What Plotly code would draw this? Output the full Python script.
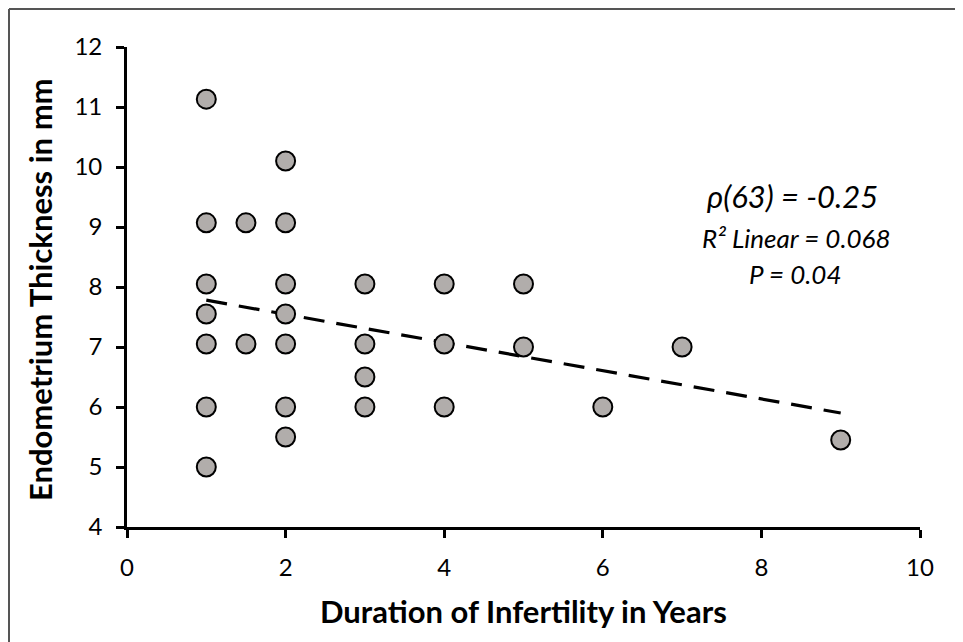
import plotly.graph_objects as go

# Data
duration_years = [1, 1, 1, 1, 1, 1, 1,
                  1.5, 1.5,
                  2, 2, 2, 2, 2, 2, 2,
                  3, 3, 3, 3,
                  4, 4, 4,
                  5, 5,
                  6, 7, 9]
thickness_mm = [11.13, 9.07, 8.05, 7.55, 7.05, 6.0, 5.0,
                9.07, 7.05,
                10.1, 9.07, 8.05, 7.55, 7.05, 6.0, 5.5,
                8.05, 7.05, 6.5, 6.0,
                8.05, 7.05, 6.0,
                8.05, 7.0,
                6.0, 7.0, 5.45]
trend_x = [1, 9]
trend_y = [7.78, 5.9]

x_ticks = [0, 2, 4, 6, 8, 10]
y_ticks = [4, 5, 6, 7, 8, 9, 10, 11, 12]

stats_lines = ["ρ(63) = -0.25", "R² Linear = 0.068", "P = 0.04"]

# page has an 8px body margin; figure sized to fit the 963x642 window
OFF = 8
W, H = 963 - OFF, 642 - OFF
ML, MR, MT, MB = 127 - OFF, 43, 47 - OFF, 115
PW, PH = W - ML - MR, H - MT - MB

def px(xp):  # page pixel -> paper x
    return (xp - OFF - ML) / PW

def py(yp):  # page pixel -> paper y
    return (H - MB - (yp - OFF)) / PH

font_family = "Lato, Open Sans, sans-serif"

fig = go.Figure()
fig.add_trace(go.Scatter(
    x=trend_x, y=trend_y, mode="lines",
    line=dict(color="black", width=3.2, dash="21px,12px"),
    hoverinfo="skip", showlegend=False))
fig.add_trace(go.Scatter(
    x=duration_years, y=thickness_mm, mode="markers",
    marker=dict(size=19, color="#b1adab", line=dict(color="black", width=2)),
    showlegend=False))

axis_common = dict(showgrid=False, zeroline=False, showline=True,
                   linecolor="black", linewidth=2.8, ticks="outside",
                   ticklen=8, tickwidth=2.8, tickcolor="black",
                   ticklabelstandoff=9,
                   tickfont=dict(family=font_family, size=24, color="black"))

fig.update_xaxes(range=[0, 10], tickvals=x_ticks, **axis_common)
fig.update_yaxes(range=[4, 12], tickvals=y_ticks, **axis_common)

annotations = [
    dict(text="<b>Duration of Infertility in Years</b>", xref="paper", yref="paper",
         x=0.5, y=py(611), xanchor="center", yanchor="middle", showarrow=False,
         font=dict(family=font_family, size=31, color="black")),
    dict(text="<b>Endometrium Thickness in mm</b>", xref="paper", yref="paper",
         x=px(40), y=py(290), xanchor="center", yanchor="middle", textangle=-90,
         showarrow=False,
         font=dict(family=font_family, size=31, color="black")),
    dict(text="<i>" + stats_lines[0] + "</i>", xref="paper", yref="paper",
         x=px(792), y=py(196), xanchor="center", yanchor="middle", showarrow=False,
         font=dict(family=font_family, size=31, color="black")),
    dict(text="<i>" + stats_lines[1] + "</i>", xref="paper", yref="paper",
         x=px(796), y=py(238), xanchor="center", yanchor="middle", showarrow=False,
         font=dict(family=font_family, size=26, color="black")),
    dict(text="<i>" + stats_lines[2] + "</i>", xref="paper", yref="paper",
         x=px(795), y=py(274), xanchor="center", yanchor="middle", showarrow=False,
         font=dict(family=font_family, size=26, color="black")),
]

shapes = [
    dict(type="line", xref="paper", yref="paper", x0=px(9), x1=px(963 + 10),
         y0=py(9), y1=py(9), line=dict(color="#555555", width=2)),
    dict(type="line", xref="paper", yref="paper", x0=px(9), x1=px(9),
         y0=py(9), y1=py(642 + 10), line=dict(color="#555555", width=2)),
]

fig.update_layout(
    width=W, height=H,
    margin=dict(l=ML, r=MR, t=MT, b=MB),
    paper_bgcolor="white", plot_bgcolor="white",
    annotations=annotations, shapes=shapes,
    font=dict(family=font_family, color="black"),
)

fig.write_html("out.html")
